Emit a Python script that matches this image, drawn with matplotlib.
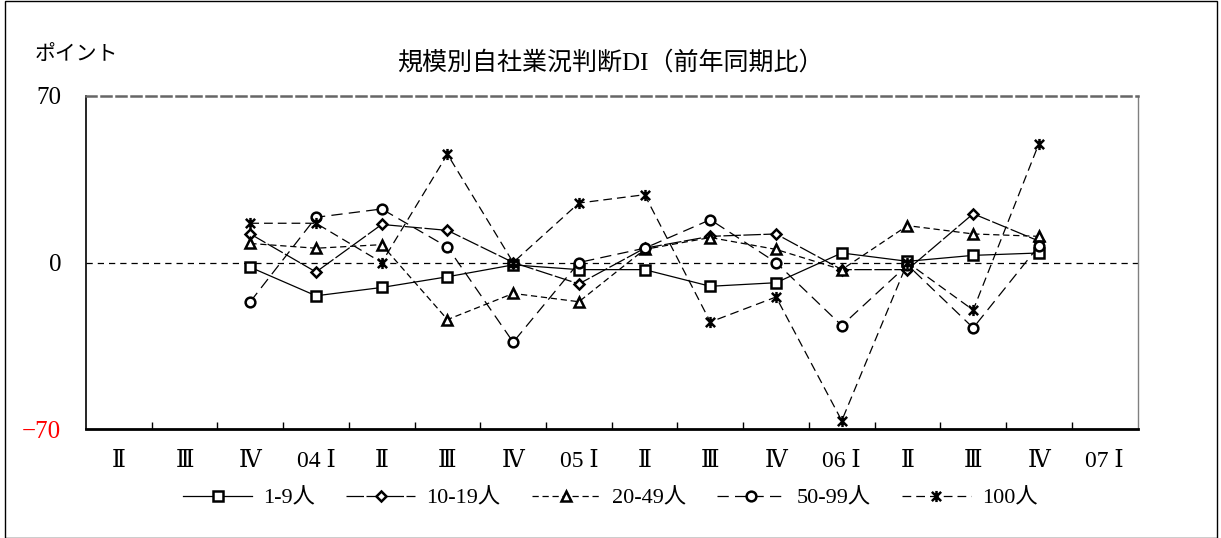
import matplotlib
matplotlib.use("Agg")
import matplotlib.pyplot as plt
import numpy as np
from matplotlib.path import Path
from matplotlib.patches import Rectangle

plt.rcParams['font.family'] = ['Liberation Serif', 'DejaVu Serif', 'Noto Sans CJK JP']

# quarters on the x axis (2003 II .. 2007 I)
quarters = ["Ⅱ", "Ⅲ", "Ⅳ", "04 Ⅰ", "Ⅱ", "Ⅲ", "Ⅳ", "05 Ⅰ",
            "Ⅱ", "Ⅲ", "Ⅳ", "06 Ⅰ", "Ⅱ", "Ⅲ", "Ⅳ", "07 Ⅰ"]
# data runs from 03 IV to 06 IV
first_q = 2

# DI values by firm size
di_1_9 = [-2, -14, -10.5, -6, -1, -3, -3, -10, -8.5, 4, 0.5, 3, 4]
di_10_19 = [12, -4, 16, 13.5, 0, -9, 6, 11, 12, -3, -3, 20.5, 9]
di_20_49 = [8, 6, 7.5, -24, -13, -16.5, 5.5, 10.5, 5.5, -3, 15.5, 12, 11]
di_50_99 = [-16.5, 19, 22.5, 6.5, -33.5, 0, 6, 18, 0, -26.5, -1, -27.5, 7]
di_100 = [16.5, 16.5, 0, 45.5, 0, 25, 28.5, -25, -14.5, -66.5, 0, -20, 50]

labels = ["1-9人", "10-19人", "20-49人", "50-99人", "100人"]

# excel-like star marker: X with a vertical bar
star = Path([(-1, -1), (1, 1), (-1, 1), (1, -1), (0, -1.2), (0, 1.2)],
            [Path.MOVETO, Path.LINETO] * 3)

styles = [
    dict(ls="-", marker="s", ms=7, mfc="white"),
    dict(ls=(0, (14, 2)), marker="D", ms=5, mfc="white"),
    dict(ls=(0, (5, 3)), marker="^", ms=7, mfc="white"),
    dict(ls=(0, (9, 5)), marker="o", ms=7, mfc="white"),
    dict(ls=(0, (7, 4)), marker=star, ms=8, mfc="black"),
]

fig = plt.figure(figsize=(12.21, 5.38), dpi=100)
ax = fig.add_axes([86 / 1221, 1 - 429 / 538, (1137.5 - 86) / 1221, (429 - 96) / 538])

x = np.arange(first_q, first_q + len(di_1_9))
handles = []
for vals, st, lab in zip([di_1_9, di_10_19, di_20_49, di_50_99, di_100], styles, labels):
    h, = ax.plot(x, vals, color="black", lw=0.9, mec="black", mew=1.8,
                 label=lab, **st)
    handles.append(h)

ax.axhline(0, color="black", lw=0.9, ls=(0, (5, 4)), zorder=1)

ax.set_xlim(-0.5, len(quarters) - 0.5)
ax.set_ylim(-70, 70)
ax.set_yticks([-70, 0, 70])
ax.set_yticklabels(["−70", "0", "70"], fontsize=18)
ax.get_yticklabels()[0].set_color("red")
ax.tick_params(axis="y", length=0, pad=18)

ax.set_xticks(np.arange(len(quarters)))
ax.set_xticklabels(quarters, fontsize=17)
ax.set_xticks(np.arange(0.5, len(quarters) - 0.5, 1), minor=True)
ax.tick_params(axis="x", which="major", length=0, pad=16)
ax.tick_params(axis="x", which="minor", length=5, width=1, direction="in")

ax.spines["top"].set_linestyle((0, (4, 2)))
ax.spines["top"].set_color("#666666")
ax.spines["top"].set_linewidth(1.8)
ax.spines["right"].set_color("#808080")
ax.spines["right"].set_linewidth(1)
ax.spines["left"].set_linewidth(1.2)
ax.spines["bottom"].set_linewidth(2)

fig.text(0.5, 1 - 63 / 538, "規模別自社業況判断DI（前年同期比）", ha="center",
         va="center", fontsize=18)
fig.text(35 / 1221, 1 - 55 / 538, "ポイント", ha="left", va="center", fontsize=15)

fig.legend(handles, labels, loc="center", bbox_to_anchor=(0.5, 1 - 498 / 538),
           ncol=5, frameon=False, fontsize=16, handlelength=3.1,
           columnspacing=1.4, handletextpad=0.5)

# outer frame
fig.patches.append(Rectangle((5 / 1221, 0.5 / 538), 1212 / 1221, 536.5 / 538,
                             transform=fig.transFigure, fill=False,
                             edgecolor="black", lw=1))

fig.savefig("out.png", dpi=100)
